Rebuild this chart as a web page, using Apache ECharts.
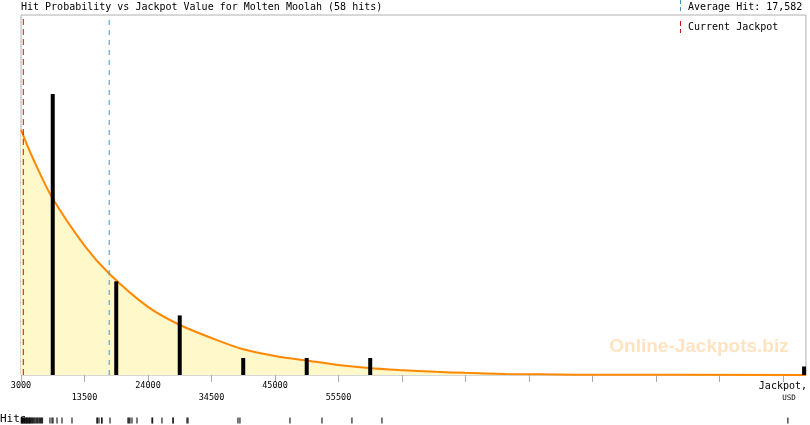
<!DOCTYPE html>
<html>
<head>
<meta charset="utf-8">
<script src="https://cdn.jsdelivr.net/npm/echarts@6/dist/echarts.min.js"></script>
<style>html,body{margin:0;padding:0;background:#fff}#c{width:810px;height:425px}</style>
</head>
<body>
<div id="c"></div>
<script>
// ---- data ----
const titleText = 'Hit Probability vs Jackpot Value for Molten Moolah (58 hits)';
const averageHit = 17582;
const currentJackpot = 3380;
const tickLabels = ['3000','13500','24000','34500','45000','55500','','','','','','',''];
const axisTitle = ['Jackpot,', 'USD'];
// histogram bins (bin centre, hits)
const binCenters = [8250, 18750, 29250, 39750, 50250, 60750, 132500];
const binHits    = [33, 11, 7, 2, 2, 2, 1];
// fitted probability curve (jackpot, height in hit units)
const curveX = [3000, 5000, 8100, 13500, 17600, 24000, 29200, 34500, 39600, 45000, 50200, 55500, 60500, 65500, 71600, 76400, 83100, 94700, 132800];
const curveY = [28.8, 25.4, 20.9, 15.2, 11.9, 8.0, 5.9, 4.35, 3.05, 2.23, 1.70, 1.17, 0.82, 0.59, 0.37, 0.25, 0.13, 0.04, 0];
// individual hits (rug)
const hits = [3050, 3130, 3220, 3310, 3420, 3560, 3640, 3790, 3880, 3990, 4080, 4230, 4350, 4420, 4590, 4700, 4880, 5010, 5170, 5330, 5520, 5690, 5840, 6060, 6210, 6390, 6540,
  7780, 8110, 8280, 8940, 9760, 11410,
  15530, 15600, 15860, 16300, 16360, 17680, 20640, 20800, 20970, 21300, 22130,
  24600, 24700, 26250, 28060, 28100, 30370, 30540,
  38780, 39110, 47360, 52640, 57580, 62530, 129480];

const MONO = 'DejaVu Sans Mono';
const RED = '#CC1010', BLUE = '#3A96C8';
const Y_MAX = 42.28;
const chart = echarts.init(document.getElementById('c'), null, {renderer: 'canvas'});
const xMin = 3000, xMax = 132800, xStep = 10500;

function vline(v, color, dash) {
  return {
    type: 'line', xAxisIndex: 0, yAxisIndex: 0, silent: true,
    data: [[v, 0], [v, Y_MAX]], symbol: 'none',
    lineStyle: {color: color, width: 1, type: dash}, z: 2.5
  };
}

chart.setOption({
  animation: false,
  backgroundColor: '#fff',
  title: {
    text: titleText, left: 21, top: 2, padding: 0,
    textStyle: {fontFamily: MONO, fontSize: 10, fontWeight: 'normal', color: '#000'}
  },
  grid: [
    {left: 21, right: 2, top: 15, bottom: 50, show: true, borderColor: '#b0b0b0', borderWidth: 1, backgroundColor: 'transparent'},
    {left: 21, right: 2, top: 416, height: 9}
  ],
  xAxis: [
    {
      type: 'value', gridIndex: 0, min: xMin, max: xMax, interval: xStep,
      axisLine: {show: false},
      splitLine: {show: false},
      axisTick: {show: true, length: 7, lineStyle: {color: '#aaa'}},
      axisLabel: {
        show: true, margin: 5, showMaxLabel: false, showMinLabel: true,
        fontFamily: MONO, color: '#000',
        formatter: function (value) {
          const k = Math.round((value - xMin) / xStep);
          if (Math.abs(value - (xMin + k * xStep)) > 1) return '';
          if (k === 12) return '{j|' + axisTitle[0] + '}\n{u|' + axisTitle[1] + '}';
          const lab = tickLabels[k];
          if (!lab) return '';
          return k % 2 === 1 ? '{n| }\n{n|' + lab + '}' : '{n|' + lab + '}';
        },
        rich: {
          n: {fontFamily: MONO, fontSize: 8.5, lineHeight: 12, color: '#000'},
          j: {fontFamily: MONO, fontSize: 10, lineHeight: 12, color: '#000'},
          u: {fontFamily: MONO, fontSize: 7.5, lineHeight: 12, color: '#000', padding: [0, 0, 0, 12]}
        }
      }
    },
    {type: 'value', gridIndex: 1, min: xMin, max: xMax, show: false}
  ],
  yAxis: [
    {type: 'value', gridIndex: 0, min: 0, max: Y_MAX, show: false},
    {type: 'value', gridIndex: 1, min: 0, max: 1, show: false}
  ],
  series: [
    {
      type: 'line', xAxisIndex: 0, yAxisIndex: 0,
      data: curveX.map((x, i) => [x, curveY[i]]),
      smooth: 0.3, symbol: 'none',
      lineStyle: {color: '#FF8800', width: 2},
      areaStyle: {color: '#FFF8CA', opacity: 1},
      z: 2
    },
    vline(currentJackpot, RED, [6, 4]),
    vline(averageHit, BLUE, [5, 5]),
    {
      type: 'bar', xAxisIndex: 0, yAxisIndex: 0,
      data: binCenters.map((x, i) => [x, binHits[i]]),
      barWidth: 4, itemStyle: {color: '#000'}, z: 3
    },
    {
      type: 'scatter', xAxisIndex: 1, yAxisIndex: 1,
      data: hits.map(v => [v, 0.5]),
      symbol: 'rect', symbolSize: [1.3, 6],
      itemStyle: {color: '#000'}, clip: false
    }
  ],
  graphic: [
    {type: 'text', left: 0, top: 414, style: {text: 'Hits', font: '11px "DejaVu Sans Mono"', fill: '#000'}},
    {type: 'text', x: 699, y: 347, style: {text: 'Online-Jackpots.biz', font: 'bold 19px "Liberation Sans", Arial, sans-serif', fill: 'rgba(255,140,0,0.25)', align: 'center', verticalAlign: 'middle'}, z: 1},
    {type: 'line', shape: {x1: 680.5, y1: 0, x2: 680.5, y2: 11}, style: {stroke: BLUE, lineWidth: 1, lineDash: [4, 3]}},
    {type: 'text', x: 688, y: 7, style: {text: 'Average Hit: 17,582', font: '10px "DejaVu Sans Mono"', fill: '#000', verticalAlign: 'middle'}},
    {type: 'line', shape: {x1: 680.5, y1: 21, x2: 680.5, y2: 33}, style: {stroke: RED, lineWidth: 1, lineDash: [5, 3]}},
    {type: 'text', x: 688, y: 27, style: {text: 'Current Jackpot', font: '10px "DejaVu Sans Mono"', fill: '#000', verticalAlign: 'middle'}}
  ]
});
</script>
</body>
</html>
